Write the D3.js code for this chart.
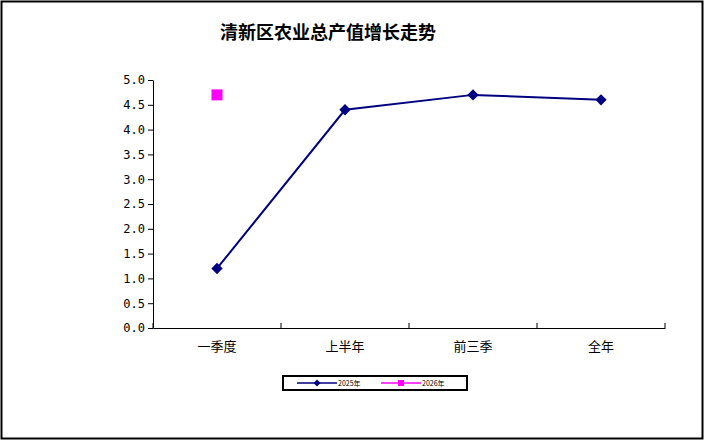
<!DOCTYPE html><html><head><meta charset="utf-8"><script src="https://cdn.jsdelivr.net/npm/d3@7"></script>
<style>body{margin:0;background:#fff}</style></head><body><svg id="c" width="705" height="441"></svg><script>
const categories=["一季度","上半年","前三季","全年"];
const series2025=[1.2,4.4,4.7,4.6];
const series2026=[4.7,null,null,null];
const seriesNames=["2025年","2026年"];
const yTicks=[0,0.5,1,1.5,2,2.5,3,3.5,4,4.5,5];
const svg=d3.select("#c");
svg.append("rect").attr("x",1.5).attr("y",1.5).attr("width",701).attr("height",437).attr("fill","#fff").attr("stroke","#000").attr("stroke-width",2);
svg.append("text").attr("x",328).attr("y",39).attr("text-anchor","middle").attr("font-family","Noto Sans CJK SC").attr("font-weight","bold").attr("font-size",18).text("清新区农业总产值增长走势");
const x=d3.scaleBand().domain(categories).range([153,665]);
const y=d3.scaleLinear().domain([0,5]).range([328,80]);
const ya=svg.append("g").attr("transform","translate(153,0)").call(d3.axisLeft(y).tickValues(yTicks).tickFormat(d3.format(".1f")).tickSize(5).tickSizeOuter(0));
ya.selectAll("text").attr("font-family","DejaVu Sans Mono").attr("font-size",12).attr("fill","#000");
const xa=svg.append("g").attr("transform","translate(0,328)").call(d3.axisBottom(x).tickSize(0).tickSizeOuter(0));
xa.selectAll("text").attr("font-family","Noto Sans CJK SC").attr("font-size",13).attr("dy","1.5em").attr("fill","#000");
xa.selectAll(".b").data(categories.map((c)=>x(c)).concat([665])).enter().append("line").attr("x1",d=>d).attr("x2",d=>d).attr("y1",0).attr("y2",-5).attr("stroke","#000");
svg.selectAll(".domain").attr("stroke","#000");
const line=d3.line().defined(d=>d[1]!=null).x(d=>x(d[0])+x.bandwidth()/2).y(d=>y(d[1]));
const pts=categories.map((c,i)=>[c,series2025[i]]);
svg.append("path").attr("d",line(pts)).attr("fill","none").attr("stroke","#000080").attr("stroke-width",2);
svg.selectAll(".m").data(pts).enter().append("rect").attr("x",-4).attr("y",-4).attr("width",8).attr("height",8).attr("transform",d=>`translate(${x(d[0])+x.bandwidth()/2},${y(d[1])}) rotate(45)`).attr("fill","#000080");
const p2=categories.map((c,i)=>[c,series2026[i]]).filter(d=>d[1]!=null);
svg.selectAll(".s").data(p2).enter().append("rect").attr("x",d=>x(d[0])+x.bandwidth()/2-5.5).attr("y",d=>y(d[1])-5.5).attr("width",11).attr("height",11).attr("fill","#ff00ff");
const lg=svg.append("g");
lg.append("rect").attr("x",283).attr("y",376).attr("width",184).attr("height",14).attr("fill","#fff").attr("stroke","#000").attr("stroke-width",2);
[["#000080",297,"d"],["#ff00ff",381,"s"]].forEach((s,i)=>{
 lg.append("line").attr("x1",s[1]).attr("x2",s[1]+40).attr("y1",383).attr("y2",383).attr("stroke",s[0]).attr("stroke-width",1.5);
 if(s[2]=="d") lg.append("rect").attr("x",-2.5).attr("y",-2.5).attr("width",5).attr("height",5).attr("transform",`translate(${s[1]+20},383) rotate(45)`).attr("fill",s[0]);
 else lg.append("rect").attr("x",s[1]+17).attr("y",380).attr("width",6).attr("height",6).attr("fill",s[0]);
 lg.append("text").attr("x",s[1]+41).attr("y",386).attr("font-family","Noto Sans CJK SC").attr("font-size",7).text(seriesNames[i]);
});
</script></body></html>
